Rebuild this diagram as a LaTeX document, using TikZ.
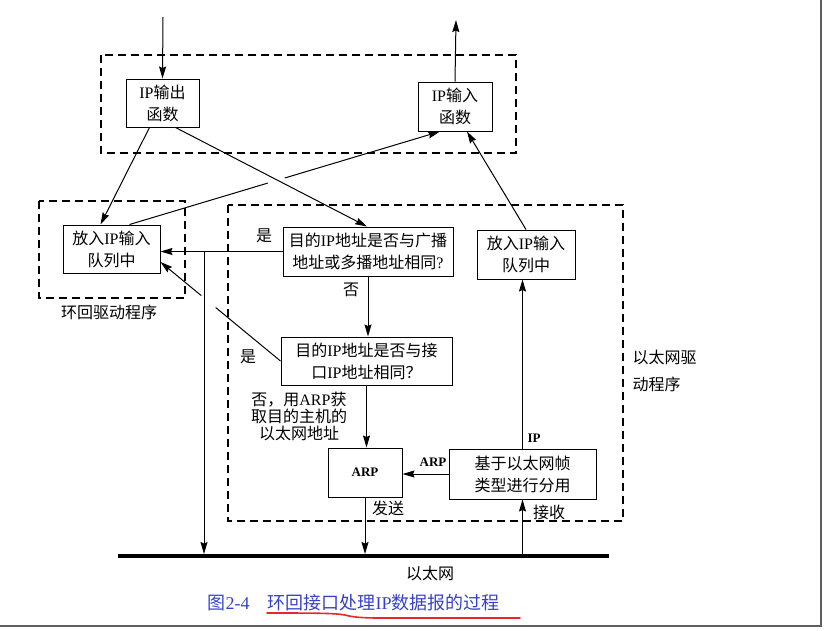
\documentclass[tikz,border=0pt]{standalone}
\usepackage{fontspec}
\setmainfont{Liberation Serif}
\newfontfamily\cjk{Noto Sans CJK SC}
\newcommand\lat[1]{{\rmfamily #1}}
\usetikzlibrary{arrows.meta,calc}
\definecolor{capblue}{RGB}{55,65,200}
\definecolor{ulred}{RGB}{232,40,40}
\definecolor{framegray}{RGB}{95,95,95}

\begin{document}
\begin{tikzpicture}[x=1pt,y=-1pt,>={Stealth[length=12pt,width=7pt,inset=1.5pt]},
  box/.style={draw,line width=1pt,inner sep=0pt,align=center,font=\cjk\fontsize{16}{22}\selectfont},
  zone/.style={line width=1.1pt,dash pattern=on 8pt off 5pt},
  lbl/.style={font=\cjk\fontsize{16}{19}\selectfont},
  tag/.style={font=\bfseries\fontsize{13}{15}\selectfont},
  link/.style={->,line width=1pt}]
\useasboundingbox (0,0) rectangle (825,630);
\draw[framegray,line width=2.5pt] (821,0) -- (821,626) -- (0,626);
% dashed zones
\draw[zone] (101,55) rectangle (516,153);
\draw[zone] (39,201) rectangle (185,298);
\draw[zone] (228,205) rectangle (623,521);
% boxes
\node[box,minimum width=73pt,minimum height=48pt] (ipout) at (162.5,103) {\lat{IP}输出\\函数};
\node[box,minimum width=74pt,minimum height=49pt] (ipin) at (455,106.5) {\lat{IP}输入\\函数};
\node[box,minimum width=97pt,minimum height=48pt] (loopq) at (111.5,249) {放入\lat{IP}输入\\队列中};
\node[box,minimum width=170pt,minimum height=49pt] (dec1) at (368,251.5) {目的\lat{IP}地址是否与广播\\地址或多播地址相同\lat{?}};
\node[box,minimum width=171pt,minimum height=48pt] (dec2) at (366.5,361) {目的\lat{IP}地址是否与接\\口\lat{IP}地址相同？};
\node[box,minimum width=98pt,minimum height=49pt] (ethq) at (526,254.5) {放入\lat{IP}输入\\队列中};
\node[box,minimum width=74pt,minimum height=49pt,font=\bfseries\fontsize{13}{15}\selectfont] (arp) at (365,472.5) {ARP};
\node[box,minimum width=147pt,minimum height=50pt] (demux) at (522.5,474) {基于以太网帧\\类型进行分用};
% ethernet
\coordinate (lanL) at (118,556);
\coordinate (lanR) at (609,556);
\draw[line width=3.5pt] (lanL) -- (lanR);
% labels
\node[lbl] (loopname) at (109,312) {环回驱动程序};
\node[lbl,align=left,anchor=west,font=\cjk\fontsize{16}{27}\selectfont] (ethname) at (629,371) {以太网驱\\动程序};
\node[lbl,align=center,font=\cjk\fontsize{16}{17}\selectfont] (arpnote) at (299,416) {否，用\lat{ARP}获\\取目的主机的\\以太网地址};
\node[lbl] (yes1) at (264,236) {是};
\node[lbl] (yes2) at (248,357) {是};
\node[lbl] (no1) at (351,290) {否};
\node[lbl] (send) at (388,508) {发送};
\node[lbl] (recv) at (549,512) {接收};
\node[tag] (arptag) at (433,462) {ARP};
\node[tag] (iptag) at (534,438) {IP};
\node[lbl] (lanname) at (430,573) {以太网};
\node[lbl,text=capblue,anchor=west,font=\cjk\fontsize{18}{20}\selectfont] (fignum) at (204,603) {图\lat{2-4}};
\node[lbl,text=capblue,anchor=west,font=\cjk\fontsize{18}{20}\selectfont] (title) at (264,603) {环回接口处理\lat{IP}数据报的过程};
\draw[ulred,line width=1.6pt,line cap=round] (267,613) .. controls (310,613) and (335,613) .. (345,615) .. controls (352,617) and (362,618) .. (380,618) -- (520,618);
% connectors
\coordinate (srcin) at (163,17);
\coordinate (sinkup) at (456,20);
\draw[link] (srcin) -- (ipout.north);
\draw[link] (ipin.north) -- (sinkup);
\draw[link] ($(ipout.south)+(-13,0)$) -- ($(loopq.north)+(-11,0)$);
\draw[link] ($(ipout.south)+(13,0)$) -- ($(dec1.north)+(-1,0)$);
\coordinate (lq1) at ($(loopq.north)+(18,0)$);
\coordinate (ii1) at ($(ipin.south)+(-15,0)$);
\draw[line width=1pt] (lq1) -- ($(lq1)!.445!(ii1)$);
\draw[link] ($(lq1)!.5!(ii1)$) -- (ii1);
\draw[link] (ethq.north) -- ($(ipin.south)+(12,0)$);
\draw[link] (dec1.west) -- (dec1.west -| loopq.east);
\coordinate (drop) at (204,0);
\draw[link] (drop |- dec1.west) -- ($(drop |- lanL)+(0,-2)$);
\coordinate (lq2) at ($(loopq.east)+(0,13)$);
\draw[line width=1pt] (dec2.west) -- ($(dec2.west)!.54!(lq2)$);
\draw[link] ($(dec2.west)!.66!(lq2)$) -- (lq2);
\draw[link] (dec1.south) -- (dec1.south |- dec2.north);
\draw[link] (dec2.south) -- (dec2.south |- arp.north);
\draw[link] (arp.south) -- ($(arp.south |- lanL)+(0,-2)$);
\draw[link] (demux.west) -- (demux.west -| arp.east);
\draw[link] (demux.north) -- (demux.north |- ethq.south);
\draw[link] ($(demux.south |- lanL)+(0,-2)$) -- (demux.south);
\end{tikzpicture}
\end{document}
